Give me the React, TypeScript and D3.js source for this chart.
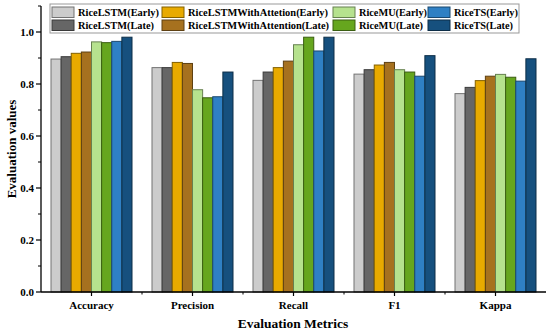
import React from "react";
import * as d3 from "d3";

const categories = ["Accuracy", "Precision", "Recall", "F1", "Kappa"];
const seriesNames = [
  "RiceLSTM(Early)",
  "RiceLSTM(Late)",
  "RiceLSTMWithAttetion(Early)",
  "RiceLSTMWithAttention(Late)",
  "RiceMU(Early)",
  "RiceMU(Late)",
  "RiceTS(Early)",
  "RiceTS(Late)",
];
const colors = ["#cccccc", "#666666", "#e8aa00", "#a6711f", "#b6e28e", "#66a61e", "#2f80c4", "#16507e"];
// values[series][category]
const riceLSTMEarly = [0.896, 0.863, 0.814, 0.838, 0.763];
const riceLSTMLate = [0.905, 0.863, 0.846, 0.855, 0.787];
const riceAttEarly = [0.918, 0.883, 0.863, 0.873, 0.813];
const riceAttLate = [0.923, 0.879, 0.888, 0.883, 0.83];
const riceMUEarly = [0.962, 0.778, 0.951, 0.855, 0.837];
const riceMULate = [0.959, 0.747, 0.98, 0.846, 0.826];
const riceTSEarly = [0.964, 0.751, 0.927, 0.83, 0.811];
const riceTSLate = [0.98, 0.846, 0.98, 0.909, 0.897];
const values = [riceLSTMEarly, riceLSTMLate, riceAttEarly, riceAttLate, riceMUEarly, riceMULate, riceTSEarly, riceTSLate];
const yTicks = [0, 0.2, 0.4, 0.6, 0.8, 1.0];
const yMinorTicks = [0.1, 0.3, 0.5, 0.7, 0.9, 1.1];

const W = 550, H = 335;
const left = 41, right = 546, top = 6, bottom = 292;
const font = "'Liberation Serif', 'Times New Roman', serif";

export default function App() {
  const x = d3.scaleBand<string>().domain(categories).range([left, right]).padding(0);
  const y = d3.scaleLinear().domain([0, 1.1]).range([bottom, top]);
  const inner = d3.scaleBand<number>().domain(d3.range(seriesNames.length)).range([0, 81]);
  const groupOffset = (x.bandwidth() - 81) / 2;

  const legendCols = [
    { sx: 52, tx: 78, tl: [81, 76] },
    { sx: 162, tx: 188, tl: [140, 141] },
    { sx: 333, tx: 359, tl: [68, 64] },
    { sx: 428, tx: 454, tl: [64, 59] },
  ];

  return (
    <svg width={W} height={H} style={{ position: "absolute", left: 0, top: 0, background: "#fff" }} fontFamily={font}>
      {/* bars */}
      {values.map((vals, si) =>
        vals.map((v, ci) => (
          <rect
            key={`${si}-${ci}`}
            x={(x(categories[ci]) as number) + groupOffset + (inner(si) as number)}
            y={y(v)}
            width={inner.bandwidth()}
            height={bottom - y(v)}
            fill={colors[si]}
            stroke={d3.color(colors[si])!.darker(1.6).formatHex()}
            strokeWidth={1}
          />
        ))
      )}
      {/* y axis */}
      <line x1={left} x2={left} y1={top} y2={bottom} stroke="#000" strokeWidth={1.3} />
      {yTicks.map((t) => (
        <g key={t}>
          <line x1={left - 5} x2={left} y1={y(t)} y2={y(t)} stroke="#000" strokeWidth={1.2} />
          <text x={left - 7} y={y(t)} dy="0.35em" textAnchor="end" fontSize={11} fontWeight="bold">
            {d3.format(".1f")(t)}
          </text>
        </g>
      ))}
      {yMinorTicks.map((t) => (
        <line key={t} x1={left - 3} x2={left} y1={y(t)} y2={y(t)} stroke="#000" strokeWidth={1} />
      ))}
      {/* x axis */}
      <line x1={left} x2={right} y1={bottom} y2={bottom} stroke="#000" strokeWidth={1.3} />
      {categories.map((c) => (
        <g key={c}>
          <line
            x1={(x(c) as number) + x.bandwidth() / 2}
            x2={(x(c) as number) + x.bandwidth() / 2}
            y1={bottom}
            y2={bottom + 4}
            stroke="#000"
            strokeWidth={1.2}
          />
          <text x={(x(c) as number) + x.bandwidth() / 2} y={bottom + 17} textAnchor="middle" fontSize={11} fontWeight="bold">
            {c}
          </text>
        </g>
      ))}
      {categories.slice(1).map((c) => (
        <line key={c} x1={x(c) as number} x2={x(c) as number} y1={bottom} y2={bottom + 2.5} stroke="#000" strokeWidth={1} />
      ))}
      {/* axis titles */}
      <text x={293} y={328} textAnchor="middle" fontSize={13.5} fontWeight="bold">
        Evaluation Metrics
      </text>
      <text transform={`translate(16,${(top + bottom) / 2}) rotate(-90)`} textAnchor="middle" fontSize={13} fontWeight="bold">
        Evaluation values
      </text>
      {/* legend */}
      <rect x={50} y={4} width={469} height={29} fill="#fff" stroke="#999" strokeWidth={1} />
      {seriesNames.map((n, i) => {
        const col = legendCols[Math.floor(i / 2)];
        const row = i % 2;
        const yy = 7 + row * 13;
        return (
          <g key={n}>
            <rect x={col.sx} y={yy} width={22} height={10.5} fill={colors[i]} stroke={d3.color(colors[i])!.darker(1.6).formatHex()} strokeWidth={1} />
            <text
              x={col.tx}
              y={yy + 5.5}
              dy="0.35em"
              fontSize={10.5}
              fontWeight="bold"
              textLength={col.tl[row]}
              lengthAdjust="spacingAndGlyphs"
            >
              {n}
            </text>
          </g>
        );
      })}
    </svg>
  );
}
